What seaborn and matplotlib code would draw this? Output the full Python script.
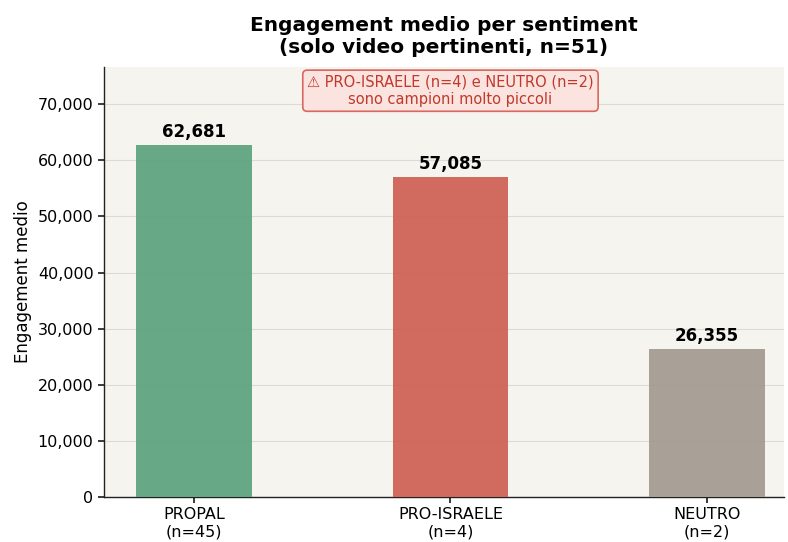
import matplotlib
matplotlib.use("Agg")
import matplotlib.pyplot as plt
import seaborn as sns
import pandas as pd

categories = ["PROPAL", "PRO-ISRAELE", "NEUTRO"]
counts = [45, 4, 2]
engagement = [62681, 57085, 26355]
colors = ["#5fa581", "#cf6357", "#a59c92"]

sns.set_theme(style="white")
plt.rcParams["font.family"] = ["DejaVu Sans"]
plt.rcParams["text.color"] = "black"
plt.rcParams["axes.labelcolor"] = "black"
plt.rcParams["xtick.color"] = "black"
plt.rcParams["ytick.color"] = "black"

labels = [f"{c}\n(n={n})" for c, n in zip(categories, counts)]
df = pd.DataFrame({"label": labels, "engagement": engagement})

fig = plt.figure(figsize=(7.88, 5.42), dpi=100)
ax = fig.add_axes([0.132, 0.083, 0.863, 0.793])
ax.set_facecolor("#f6f4ef")

sns.barplot(data=df, x="label", y="engagement", hue="label", palette=colors,
            legend=False, width=0.45, saturation=1, linewidth=0,
            alpha=0.95, ax=ax, zorder=3)

for i, v in enumerate(engagement):
    ax.text(i, v + 700, f"{v:,}", ha="center", va="bottom",
            fontsize=12, fontweight="bold", color="black")

ax.set_ylim(0, max(engagement) * 1.222)
ax.set_xlim(-0.35, 2.3)
ax.yaxis.set_major_formatter(matplotlib.ticker.FuncFormatter(lambda v, p: f"{int(v):,}"))
ax.grid(axis="y", color="#dcdcd4", linewidth=0.8, zorder=0)
ax.set_axisbelow(True)
ax.set_xlabel("")
ax.set_ylabel("Engagement medio", fontsize=12)
ax.tick_params(axis="both", labelsize=11.5, length=4, color="#222222", bottom=True, left=True)
for s in ["top", "right"]:
    ax.spines[s].set_visible(False)
for s in ["left", "bottom"]:
    ax.spines[s].set_color("#222222")
    ax.spines[s].set_linewidth(1.0)

ax.set_title("Engagement medio per sentiment\n(solo video pertinenti, n=51)",
             fontsize=14.5, fontweight="bold", pad=10, color="black")

ax.text(1, max(engagement) * 1.222 * 0.983,
        "⚠ PRO-ISRAELE (n=4) e NEUTRO (n=2)\nsono campioni molto piccoli",
        ha="center", va="top", fontsize=10.5, color="#c0392b",
        bbox=dict(boxstyle="round,pad=0.3", facecolor="#fbe3df",
                  edgecolor="#d9675d", linewidth=1.2))

fig.savefig("out.png", dpi=100)
